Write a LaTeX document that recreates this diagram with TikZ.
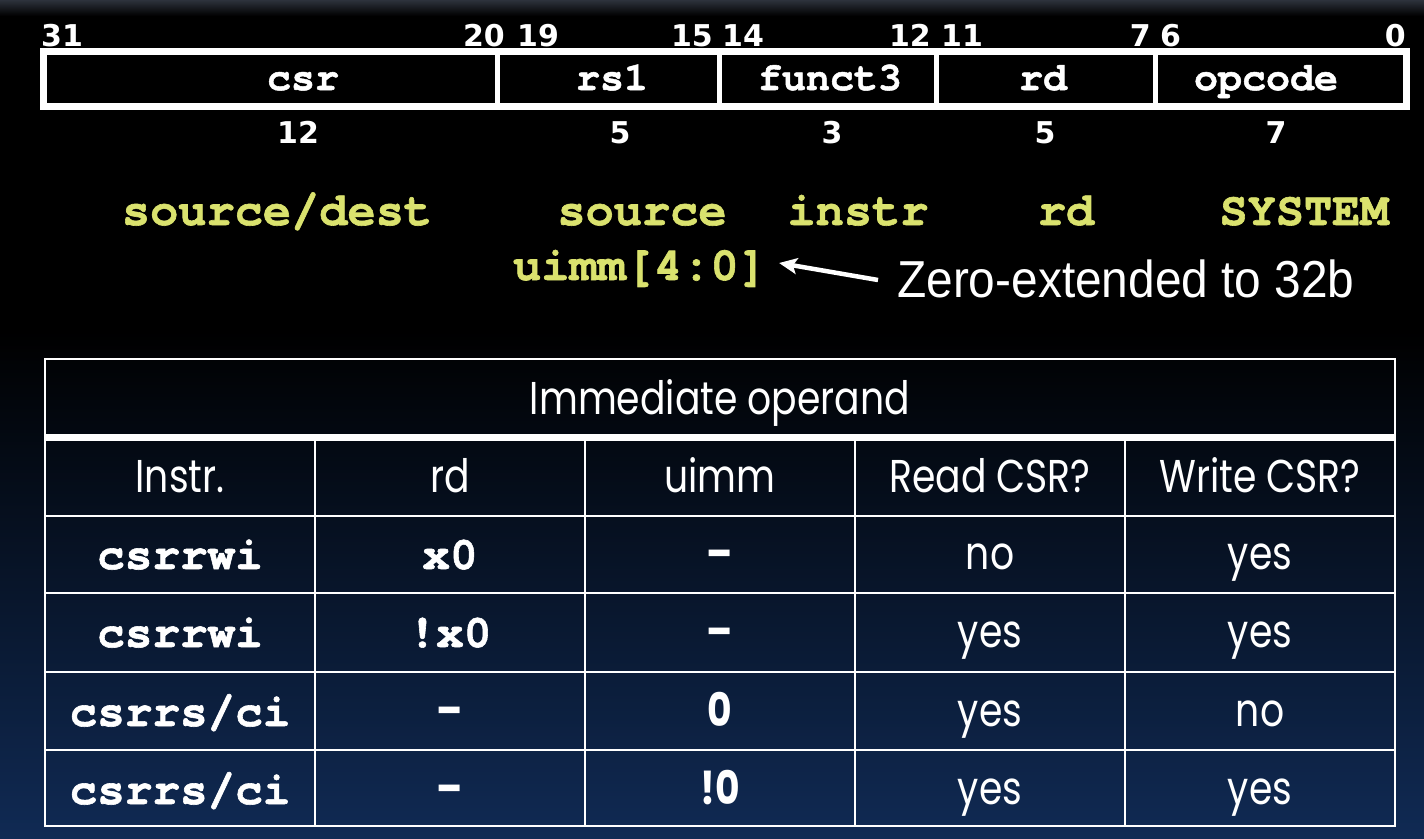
\documentclass[tikz,border=0pt]{standalone}
\usepackage{fontspec}
\setmainfont{Poppins}
\newfontfamily\codefont[BoldFeatures={FakeBold=1.3}]{TeX Gyre Cursor}
\newfontfamily\bitfont{DejaVu Sans}
\newfontfamily\notefont[FakeStretch=0.92]{Liberation Sans}
\newfontfamily\cellfont[FakeStretch=0.82]{Poppins}
\usetikzlibrary{arrows.meta}
\definecolor{srcyellow}{RGB}{218,226,110}
\definecolor{bgnavy}{RGB}{16,42,84}
\definecolor{topgrey}{RGB}{45,50,60}

\begin{document}
\begin{tikzpicture}[x=1pt,y=-1pt,
  bitnum/.style={text=white,inner sep=0pt,font=\bitfont\bfseries\fontsize{30}{30}\selectfont},
  fieldname/.style={text=white,inner sep=0pt,anchor=base,font=\codefont\bfseries\fontsize{40}{40}\selectfont},
  srcname/.style={text=srcyellow,inner sep=0pt,anchor=base,font=\codefont\bfseries\fontsize{47}{47}\selectfont},
  cell/.style={text=white,inner sep=0pt,anchor=base,font=\cellfont\fontsize{46}{46}\selectfont},
  codecell/.style={text=white,inner sep=0pt,anchor=base,font=\codefont\bfseries\fontsize{46}{46}\selectfont},
  boldcell/.style={text=white,inner sep=0pt,anchor=base,font=\cellfont\bfseries\fontsize{46}{46}\selectfont},
  grid/.style={draw=white,line width=2.5pt},
  ptr/.style={draw=white,line width=4.5pt,-{Stealth[length=18pt,width=16pt,inset=4pt]}}]
\useasboundingbox (0,0) rectangle (1424,838);
% background
\fill[black] (0,0) rectangle (1424,838);
\shade[top color=topgrey,bottom color=black] (0,0) rectangle (1424,16);
\shade[top color=black,bottom color=bgnavy] (0,330) rectangle (1424,838);

% instruction fields
\draw[white,line width=7pt] (43.5,51.5) rectangle (1406.5,106.5);
\draw[white,line width=5pt] (497.5,51.5) -- (497.5,106.5);
\draw[white,line width=5pt] (719.5,51.5) -- (719.5,106.5);
\draw[white,line width=5pt] (936.5,51.5) -- (936.5,106.5);
\draw[white,line width=5pt] (1155.5,51.5) -- (1155.5,106.5);

\node[bitnum,anchor=base west] (b31) at (41,46) {31};
\node[bitnum,anchor=base east] (b20) at (505,46) {20};
\node[bitnum,anchor=base west] (b19) at (517,46) {19};
\node[bitnum,anchor=base east] (b15) at (713,46) {15};
\node[bitnum,anchor=base west] (b14) at (722,46) {14};
\node[bitnum,anchor=base east] (b12) at (931,46) {12};
\node[bitnum,anchor=base west] (b11) at (941,46) {11};
\node[bitnum,anchor=base east] (b7) at (1151,46) {7};
\node[bitnum,anchor=base west] (b6) at (1160,46) {6};
\node[bitnum,anchor=base east] (b0) at (1406,46) {0};

\node[fieldname] (fcsr) at (303,90) {csr};
\node[fieldname] (frs1) at (612,90) {rs1};
\node[fieldname] (ffunct) at (830,90) {funct3};
\node[fieldname] (frd) at (1043,90) {rd};
\node[fieldname] (fop) at (1266,90) {opcode};

\node[bitnum,anchor=base] (wcsr) at (298,143) {12};
\node[bitnum,anchor=base] (wrs1) at (620,143) {5};
\node[bitnum,anchor=base] (wfunct) at (832,143) {3};
\node[bitnum,anchor=base] (wrd) at (1045,143) {5};
\node[bitnum,anchor=base] (wop) at (1276,143) {7};

\node[srcname] (scsr) at (277,225) {source/dest};
\node[srcname] (srs1) at (642,225) {source};
\node[srcname] (sfunct) at (858,225) {instr};
\node[srcname] (srd) at (1066,225) {rd};
\node[srcname] (sop) at (1304,225) {SYSTEM};
\node[srcname] (uimm) at (640,280) {uimm[4:0]};
\node[text=white,inner sep=0pt,anchor=base west,font=\notefont\fontsize{52}{52}\selectfont] (zext) at (897,297) {Zero-extended to 32b};
\draw[ptr] ([xshift=-19pt,yshift=17pt]zext.base west) -- ([xshift=12pt,yshift=17pt]uimm.base east);

% table
\draw[grid] (45,359) rectangle (1395,826);
\draw[white,line width=7pt] (45,437) -- (1395,437);
\draw[grid] (45,516) -- (1395,516);
\draw[grid] (45,593) -- (1395,593);
\draw[grid] (45,672) -- (1395,672);
\draw[grid] (45,750) -- (1395,750);
\draw[grid] (315,437) -- (315,826);
\draw[grid] (585,437) -- (585,826);
\draw[grid] (855,437) -- (855,826);
\draw[grid] (1125,437) -- (1125,826);

\node[cell] (title) at (720,414) {Immediate operand};
\node[cell] (h0) at (180,492) {Instr.};
\node[cell] (h1) at (450,492) {rd};
\node[cell] (h2) at (720,492) {uimm};
\node[cell] (h3) at (990,492) {Read CSR?};
\node[cell] (h4) at (1260,492) {Write CSR?};

\node[codecell] (r1c0) at (180,569) {csrrwi};
\node[codecell] (r1c1) at (450,569) {x0};
\node[boldcell] (r1c2) at (720,569) {–};
\node[cell] (r1c3) at (990,569) {no};
\node[cell] (r1c4) at (1260,569) {yes};

\node[codecell] (r2c0) at (180,647) {csrrwi};
\node[codecell] (r2c1) at (450,647) {!x0};
\node[boldcell] (r2c2) at (720,647) {–};
\node[cell] (r2c3) at (990,647) {yes};
\node[cell] (r2c4) at (1260,647) {yes};

\node[codecell] (r3c0) at (180,726) {csrrs/ci};
\node[boldcell] (r3c1) at (450,726) {–};
\node[boldcell] (r3c2) at (720,726) {0};
\node[cell] (r3c3) at (990,726) {yes};
\node[cell] (r3c4) at (1260,726) {no};

\node[codecell] (r4c0) at (180,804) {csrrs/ci};
\node[boldcell] (r4c1) at (450,804) {–};
\node[boldcell] (r4c2) at (720,804) {!0};
\node[cell] (r4c3) at (990,804) {yes};
\node[cell] (r4c4) at (1260,804) {yes};
\end{tikzpicture}
\end{document}
